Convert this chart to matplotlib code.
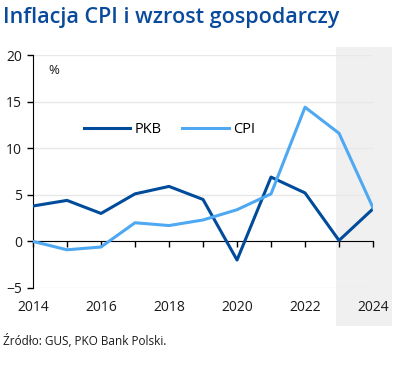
import numpy as np
import matplotlib
matplotlib.use("Agg")
import matplotlib.pyplot as plt

years = [2014, 2015, 2016, 2017, 2018, 2019, 2020, 2021, 2022, 2023, 2024]
pkb = [3.8, 4.4, 3.0, 5.1, 5.9, 4.5, -2.0, 6.9, 5.2, 0.1, 3.5]
cpi = [0.0, -0.9, -0.6, 2.0, 1.7, 2.3, 3.4, 5.1, 14.4, 11.6, 3.6]
label_years = [2014, 2016, 2018, 2020, 2022, 2024]
y_ticks = [-5, 0, 5, 10, 15, 20]

dark_blue = "#004c9b"
light_blue = "#4ea8f2"
text_col = "#1a1a1a"

plt.rcParams['font.family'] = ['Open Sans', 'DejaVu Sans']

fig = plt.figure(figsize=(4.01, 3.86), dpi=100)
ax = fig.add_axes([0.0823, 0.2539, 0.848, 0.6036])

# forecast shading (2023-2024)
ax.axvspan(2022.9, 2024.55, ymin=-0.163, ymax=1.034, color="#f0f0f0",
           clip_on=False, zorder=0, lw=0)

for v in y_ticks:
    ax.axhline(v, color="#e8e8e8", lw=1, zorder=1)

ax.plot(years, pkb, color=dark_blue, lw=2.2, label="PKB", zorder=3)
ax.plot(years, cpi, color=light_blue, lw=2.2, label="CPI", zorder=3)

ax.set_xlim(2014, 2024)
ax.set_ylim(-5, 20)
ax.set_yticks(y_ticks)
ax.set_xticks(label_years)
ax.set_xticks([y for y in years if y not in label_years], minor=True)

for s in ["top", "right"]:
    ax.spines[s].set_visible(False)
ax.spines["bottom"].set_position(("data", 0))
ax.spines["bottom"].set_color("black")
ax.spines["left"].set_color("black")
ax.tick_params(axis="x", which="both", direction="out", length=4, width=1,
               pad=38, labelsize=10, labelcolor=text_col)
ax.tick_params(axis="y", direction="out", length=4, width=1, labelsize=10,
               labelcolor=text_col, pad=4)
ax.set_facecolor("none")

ax.text(0.045, 0.96, "%", transform=ax.transAxes, fontsize=9.5,
        color=text_col, va="top")

ax.legend(loc="upper left", bbox_to_anchor=(0.11, 0.77), ncol=2, frameon=False,
          fontsize=10.5, handlelength=3.2, columnspacing=1.4, handletextpad=0.3)

fig.text(0.008, 0.94, "Inflacja CPI i wzrost gospodarczy", fontsize=15.5,
         color="#0a4a9c", fontweight="semibold")
fig.text(0.008, 0.105, "Źródło: GUS, PKO Bank Polski.", fontsize=8.5,
         color=text_col)

fig.savefig("out.png", dpi=100)
